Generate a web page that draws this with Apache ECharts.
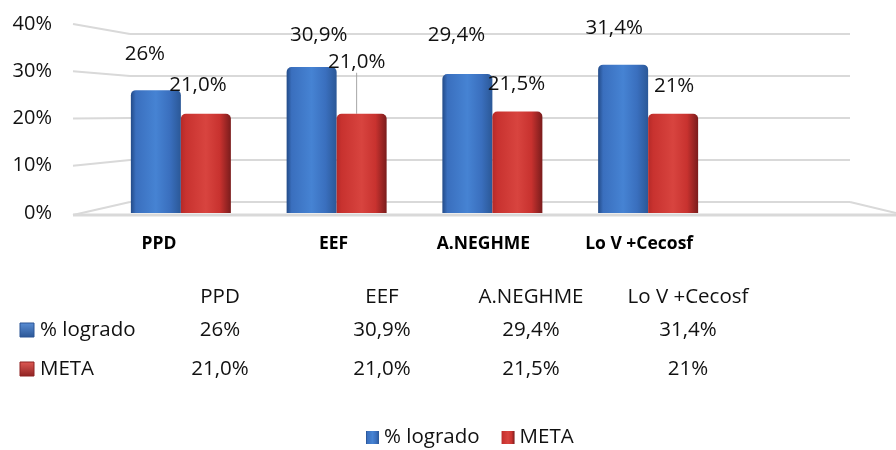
<!DOCTYPE html>
<html>
<head>
<meta charset="utf-8">
<script src="https://cdn.jsdelivr.net/npm/echarts@6/dist/echarts.min.js"></script>
<style>
  html, body { margin: 0; padding: 0; background: #fff; }
  #chart { width: 896px; height: 450px; }
</style>
</head>
<body>
<div id="chart"></div>
<script>
// Program categories and results
const categories = ['PPD', 'EEF', 'A.NEGHME', 'Lo V +Cecosf'];
const seriesNames = ['% logrado', 'META'];
const logrado = [26, 30.9, 29.4, 31.4];
const meta = [21.0, 21.0, 21.5, 21];
const logradoText = ['26%', '30,9%', '29,4%', '31,4%'];
const metaText = ['21,0%', '21,0%', '21,5%', '21%'];
const yTicks = [0, 10, 20, 30, 40];

const FONT = '"Open Sans", "Noto Sans", sans-serif';
const GRID_LINE = '#d9d9d9';
const TEXT = '#111';
const FS = 20.5;

// Bar face gradients (light center, darker rounded edges)
function faceGradient(edgeL, mid, light, edgeR) {
  return new echarts.graphic.LinearGradient(0, 0, 1, 0, [
    { offset: 0, color: edgeL },
    { offset: 0.1, color: mid },
    { offset: 0.5, color: light },
    { offset: 0.78, color: mid },
    { offset: 1, color: edgeR }
  ]);
}
const blueFace = faceGradient('#234b88', '#3a6fbe', '#4683d3', '#2b5897');
const redFace = faceGradient('#b52a28', '#c8322f', '#d8443f', '#7a1c1c');

// Label placement relative to the bar top
const logradoOffsets = [[-11, -20], [7, -16], [-11, -23], [-9, -21]];
const metaOffsets = [[-8, -13], [-5, -36], [-1, -12], [1, -12]];
// Category label shift to the left (perspective of the floor)
const catShift = [22, 3, 9, 9];

const chart = echarts.init(document.getElementById('chart'));

const labelStyle = { fontFamily: FONT, fontSize: FS, color: TEXT };

const catRich = {};
catShift.forEach((s, i) => {
  catRich['c' + i] = {
    fontFamily: FONT, fontSize: 17.5, fontWeight: 'bold', color: '#000',
    padding: [0, s * 2, 0, 0]
  };
});

const option = {
  animation: false,
  backgroundColor: '#fff',
  grid: [
    // front plane: bars and value axis
    { left: 103, width: 623, top: 24, bottom: 237 },
    // back wall: gridlines
    { left: 130, right: 46, top: 34, bottom: 248 }
  ],
  xAxis: [
    {
      gridIndex: 0, type: 'category', data: categories,
      axisLine: { show: false }, axisTick: { show: false },
      axisLabel: {
        margin: 22,
        formatter: (v, i) => '{c' + i + '|' + v + '}',
        rich: catRich
      }
    },
    {
      gridIndex: 1, type: 'category', data: categories,
      axisLine: { show: false }, axisTick: { show: false }, axisLabel: { show: false }
    }
  ],
  yAxis: [
    {
      gridIndex: 0, type: 'value', min: 0, max: 40, interval: 10,
      axisLine: { show: false }, axisTick: { show: false },
      splitLine: { show: false },
      axisLabel: {
        fontFamily: FONT, fontSize: 20, color: TEXT, margin: 51,
        formatter: v => v + '%'
      }
    },
    {
      gridIndex: 1, type: 'value', min: 0, max: 40, interval: 10,
      axisLine: { show: false }, axisTick: { show: false }, axisLabel: { show: false },
      splitLine: { lineStyle: { color: GRID_LINE, width: 2 } }
    }
  ],
  legend: {
    bottom: -3, left: 361,
    icon: 'rect', itemWidth: 13, itemHeight: 13, itemGap: 22,
    textStyle: { fontFamily: FONT, fontSize: FS, color: TEXT },
    data: seriesNames
  },
  series: [
    {
      name: seriesNames[0], type: 'bar', xAxisIndex: 0, yAxisIndex: 0,
      barWidth: 50, barGap: '0%',
      itemStyle: { color: blueFace, borderRadius: [5, 5, 0, 0] },
      data: logrado.map((v, i) => ({
        value: v,
        label: { offset: logradoOffsets[i] }
      })),
      label: {
        show: true, position: 'top', ...labelStyle,
        formatter: p => logradoText[p.dataIndex]
      }
    },
    {
      name: seriesNames[1], type: 'bar', xAxisIndex: 0, yAxisIndex: 0,
      barWidth: 50, barGap: '0%',
      itemStyle: { color: redFace, borderRadius: [5, 5, 0, 0] },
      data: meta.map((v, i) => ({
        value: v,
        labelLine: { show: i === 1, lineStyle: { color: '#a6a6a6', width: 1 } }
      })),
      label: {
        show: true, position: 'top', ...labelStyle,
        formatter: p => metaText[p.dataIndex]
      },
      labelLayout: p => ({ dx: metaOffsets[p.dataIndex][0], dy: metaOffsets[p.dataIndex][1] }),
      labelLine: { show: false, length2: 0 }
    }
  ]
};

chart.setOption(option);

// Side wall, floor edges and the data table
function buildGraphics() {
  const els = [];
  const leftX = 73;
  const backX = 130;
  yTicks.forEach(t => {
    const front = chart.convertToPixel({ yAxisIndex: 0 }, t);
    const back = chart.convertToPixel({ yAxisIndex: 1 }, t);
    els.push({
      type: 'line', silent: true,
      shape: { x1: leftX, y1: front + (t === 0 ? 2 : 0), x2: backX, y2: back },
      style: { stroke: GRID_LINE, lineWidth: 2 }
    });
  });
  // floor front edge
  const floorY = chart.convertToPixel({ yAxisIndex: 0 }, 0) + 2;
  els.push({
    type: 'line', silent: true,
    shape: { x1: leftX, y1: floorY, x2: 896, y2: floorY },
    style: { stroke: GRID_LINE, lineWidth: 3 }
  });
  const backFloor = chart.convertToPixel({ yAxisIndex: 1 }, 0);
  els.push({
    type: 'line', silent: true,
    shape: { x1: 850, y1: backFloor, x2: 896, y2: floorY - 2 },
    style: { stroke: GRID_LINE, lineWidth: 2 }
  });

  // data table
  const colX = [220, 382, 531, 688];
  const rowY = [297, 330, 369];
  const tStyle = { fontFamily: FONT, fontSize: FS, fill: TEXT, align: 'center', verticalAlign: 'middle' };
  categories.forEach((c, i) => {
    els.push({ type: 'text', x: colX[i], y: rowY[0], style: { text: c, ...tStyle } });
    els.push({ type: 'text', x: colX[i], y: rowY[1], style: { text: logradoText[i], ...tStyle } });
    els.push({ type: 'text', x: colX[i], y: rowY[2], style: { text: metaText[i], ...tStyle } });
  });
  const keyFills = [
    new echarts.graphic.LinearGradient(0, 0, 0, 1, [
      { offset: 0, color: '#5b8fd6' }, { offset: 1, color: '#2a5595' }]),
    new echarts.graphic.LinearGradient(0, 0, 0, 1, [
      { offset: 0, color: '#e05a55' }, { offset: 1, color: '#8e2222' }])
  ];
  seriesNames.forEach((n, k) => {
    els.push({
      type: 'rect', silent: true,
      shape: { x: 20, y: rowY[k + 1] - 7, width: 14, height: 14 },
      style: { fill: keyFills[k], stroke: k === 0 ? '#2a5595' : '#8e2222', lineWidth: 1 }
    });
    els.push({
      type: 'text', x: 40, y: rowY[k + 1],
      style: { text: n, fontFamily: FONT, fontSize: FS, fill: TEXT, align: 'left', verticalAlign: 'middle' }
    });
  });
  chart.setOption({ graphic: { elements: els } });
}
buildGraphics();
</script>
</body>
</html>
